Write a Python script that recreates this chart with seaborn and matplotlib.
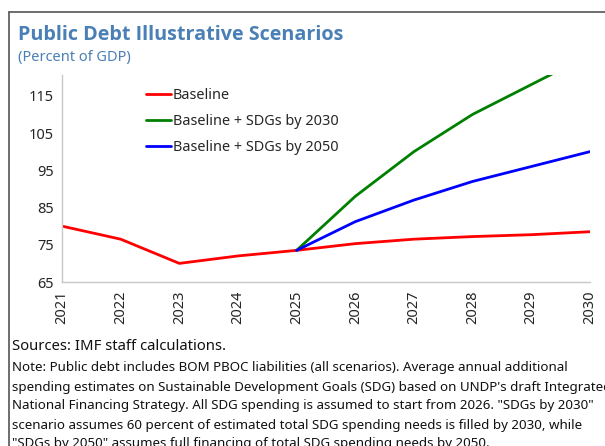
import pandas as pd
import numpy as np
import matplotlib.pyplot as plt
import seaborn as sns

years = [2021, 2022, 2023, 2024, 2025, 2026, 2027, 2028, 2029, 2030]
baseline = [80.0, 76.5, 70.0, 72.0, 73.5, 75.3, 76.5, 77.2, 77.7, 78.5]
sdg_2030 = [None, None, None, None, 73.5, 88.0, 100.0, 110.0, 118.0, 126.0]
sdg_2050 = [None, None, None, None, 73.5, 81.2, 87.0, 92.0, 96.0, 100.0]

series_names = ["Baseline", "Baseline + SDGs by 2030", "Baseline + SDGs by 2050"]
colors = ["#ff0000", "#008000", "#0000ff"]
yticks = [65, 75, 85, 95, 105, 115]

df = pd.DataFrame({"year": years,
                   series_names[0]: baseline,
                   series_names[1]: sdg_2030,
                   series_names[2]: sdg_2050})
long_df = df.melt(id_vars="year", var_name="scenario", value_name="debt").dropna()

sns.set_style("white")
plt.rcParams["font.family"] = ["Noto Sans", "DejaVu Sans"]

fig = plt.figure(figsize=(6.05, 4.46), dpi=100)
ax = fig.add_axes([0.1025, 0.3677, 0.8725, 0.4643])

sns.lineplot(data=long_df, x="year", y="debt", hue="scenario",
             hue_order=series_names, palette=colors, linewidth=2, ax=ax)

ax.set_xlim(2021, 2030)
ax.set_ylim(65, 120.6)
ax.set_xticks(years)
ax.set_xticklabels([str(y) for y in years], rotation=90, fontsize=10.5)
ax.set_yticks(yticks)
ax.set_yticklabels([str(t) for t in yticks], fontsize=10.5)
ax.set_xlabel("")
ax.set_ylabel("")
ax.tick_params(axis="both", direction="in", length=5, color="#c8c8c8", width=1, pad=6)
for side in ["top", "right"]:
    ax.spines[side].set_visible(False)
for side in ["left", "bottom"]:
    ax.spines[side].set_color("#c8c8c8")
    ax.spines[side].set_linewidth(1)

leg = ax.legend(loc="upper left", bbox_to_anchor=(0.135, 1.0), frameon=False,
                fontsize=10.4, handlelength=1.7, handletextpad=0.15, labelspacing=0.78)

title_color = "#4a80b5"
fig.text(18 / 605, 1 - 35 / 446, "Public Debt Illustrative Scenarios", fontsize=14.2,
         fontweight="bold", family=["Open Sans", "DejaVu Sans"],
         color=title_color, va="center", ha="left")
fig.text(18 / 605, 1 - 58 / 446, "(Percent of GDP)", fontsize=10.5,
         color=title_color, va="center", ha="left")

notes = [
    "Sources: IMF staff calculations.",
    "Note: Public debt includes BOM PBOC liabilities (all scenarios). Average annual additional",
    "spending estimates on Sustainable Development Goals (SDG) based on UNDP's draft Integrated",
    "National Financing Strategy. All SDG spending is assumed to start from 2026. \"SDGs by 2030\"",
    "scenario assumes 60 percent of estimated total SDG spending needs is filled by 2030, while",
    "\"SDGs by 2050\" assumes full financing of total SDG spending needs by 2050.",
]
note_y = [347, 368, 387, 406, 425, 444]
for i, (txt, yy) in enumerate(zip(notes, note_y)):
    fig.text(12 / 605, 1 - yy / 446, txt, fontsize=10.7 if i == 0 else 9.6,
             color="#111111", va="center", ha="left")

# outer frame (left and top edges visible)
fig.add_artist(plt.Line2D([8.5 / 605, 8.5 / 605], [0, 1 - 12 / 446],
                          transform=fig.transFigure, color="#555555", linewidth=1.2))
fig.add_artist(plt.Line2D([8.5 / 605, 1], [1 - 12 / 446, 1 - 12 / 446],
                          transform=fig.transFigure, color="#555555", linewidth=1.2))

fig.savefig("out.png", dpi=100)
